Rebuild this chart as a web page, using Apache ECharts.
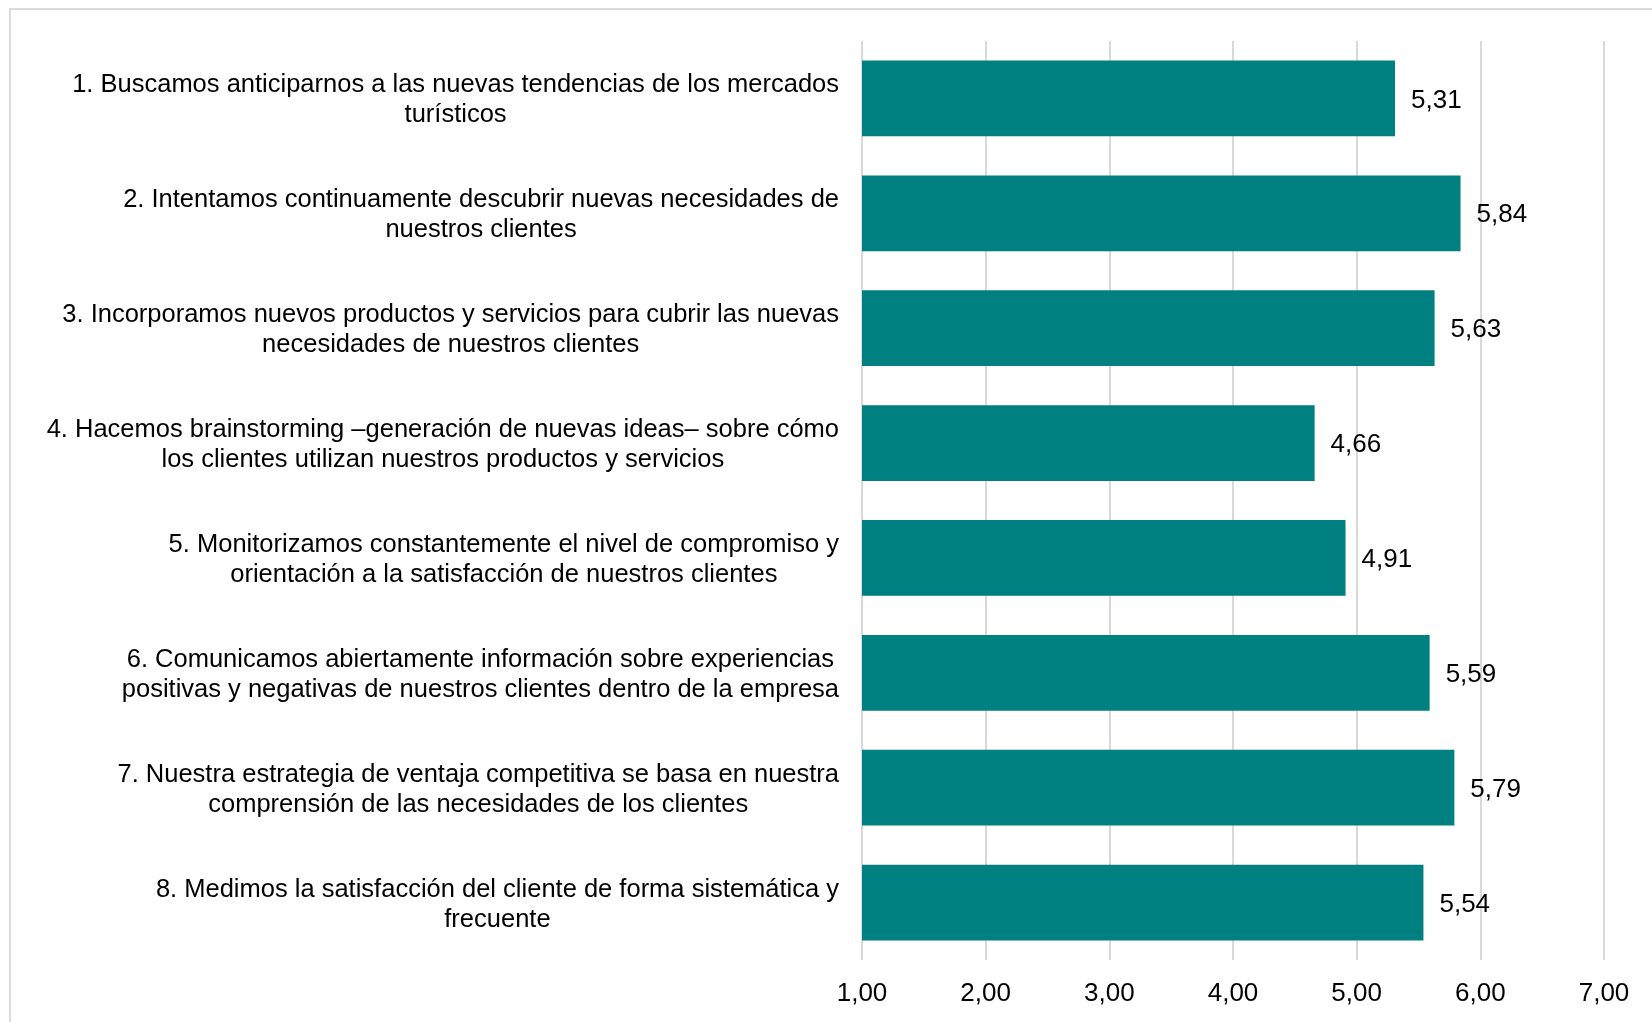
<!DOCTYPE html>
<html>
<head>
<meta charset="utf-8">
<script src="https://cdn.jsdelivr.net/npm/echarts@6/dist/echarts.min.js"></script>
<style>
  html, body { margin: 0; padding: 0; background: #ffffff; }
  #frame { position: absolute; left: 9px; top: 8px; width: 1700px; height: 1100px;
           border-left: 2px solid #dcdcdc; border-top: 2px solid #dcdcdc; box-sizing: border-box; }
  #chart { position: absolute; left: 0; top: 0; width: 1652px; height: 1022px; }
</style>
</head>
<body>
<div id="frame"></div>
<div id="chart"></div>
<script>
// Survey items (each split into its two printed lines)
const items = [
  ['1. Buscamos anticiparnos a las nuevas tendencias de los mercados', 'turísticos'],
  ['2. Intentamos continuamente descubrir nuevas necesidades de', 'nuestros clientes'],
  ['3. Incorporamos nuevos productos y servicios para cubrir las nuevas', 'necesidades de nuestros clientes'],
  ['4. Hacemos brainstorming –generación de nuevas ideas– sobre cómo', 'los clientes utilizan nuestros productos y servicios'],
  ['5. Monitorizamos constantemente el nivel de compromiso y', 'orientación a la satisfacción de nuestros clientes'],
  ['6. Comunicamos abiertamente información sobre experiencias', 'positivas y negativas de nuestros clientes dentro de la empresa'],
  ['7. Nuestra estrategia de ventaja competitiva se basa en nuestra', 'comprensión de las necesidades de los clientes'],
  ['8. Medimos la satisfacción del cliente de forma sistemática y', 'frecuente']
];
// Mean scores per item
const scores = [5.31, 5.84, 5.63, 4.66, 4.91, 5.59, 5.79, 5.54];
// Value axis range and step
const axisMin = 1;
const axisMax = 7;
const axisStep = 1;

const categories = items.map(lines => lines.join('\n'));
const fmt = v => v.toFixed(2).replace('.', ',');
const fontFamily = '"Liberation Sans", Arial, sans-serif';

const chart = echarts.init(document.getElementById('chart'), null, { renderer: 'canvas' });
chart.setOption({
  backgroundColor: 'transparent',
  animation: false,
  grid: { left: 862, right: 48, top: 41, bottom: 62, containLabel: false },
  xAxis: {
    type: 'value',
    min: axisMin,
    max: axisMax,
    interval: axisStep,
    axisLine: { show: false },
    axisTick: { show: false },
    splitLine: { show: true, lineStyle: { color: '#d9d9d9', width: 2 } },
    axisLabel: {
      formatter: v => fmt(v),
      color: '#000000',
      fontFamily: fontFamily,
      fontSize: 26,
      margin: 21
    }
  },
  yAxis: {
    type: 'category',
    inverse: true,
    data: categories,
    axisLine: { show: false },
    axisTick: { show: false },
    splitLine: { show: false },
    axisLabel: {
      margin: 23,
      align: 'right',
      padding: [4, 0, 0, 0],
      formatter: v => v.split('\n').map(s => '{c|' + s + '}').join('\n'),
      rich: {
        c: {
          align: 'center',
          color: '#000000',
          fontFamily: fontFamily,
          fontSize: 25.5,
          lineHeight: 30
        }
      }
    }
  },
  series: [{
    type: 'bar',
    data: scores,
    barCategoryGap: '34%',
    itemStyle: { color: '#008080' },
    label: {
      show: true,
      position: 'right',
      distance: 16,
      offset: [0, 2],
      formatter: p => fmt(p.value),
      color: '#000000',
      fontFamily: fontFamily,
      fontSize: 26
    }
  }]
});
</script>
</body>
</html>
